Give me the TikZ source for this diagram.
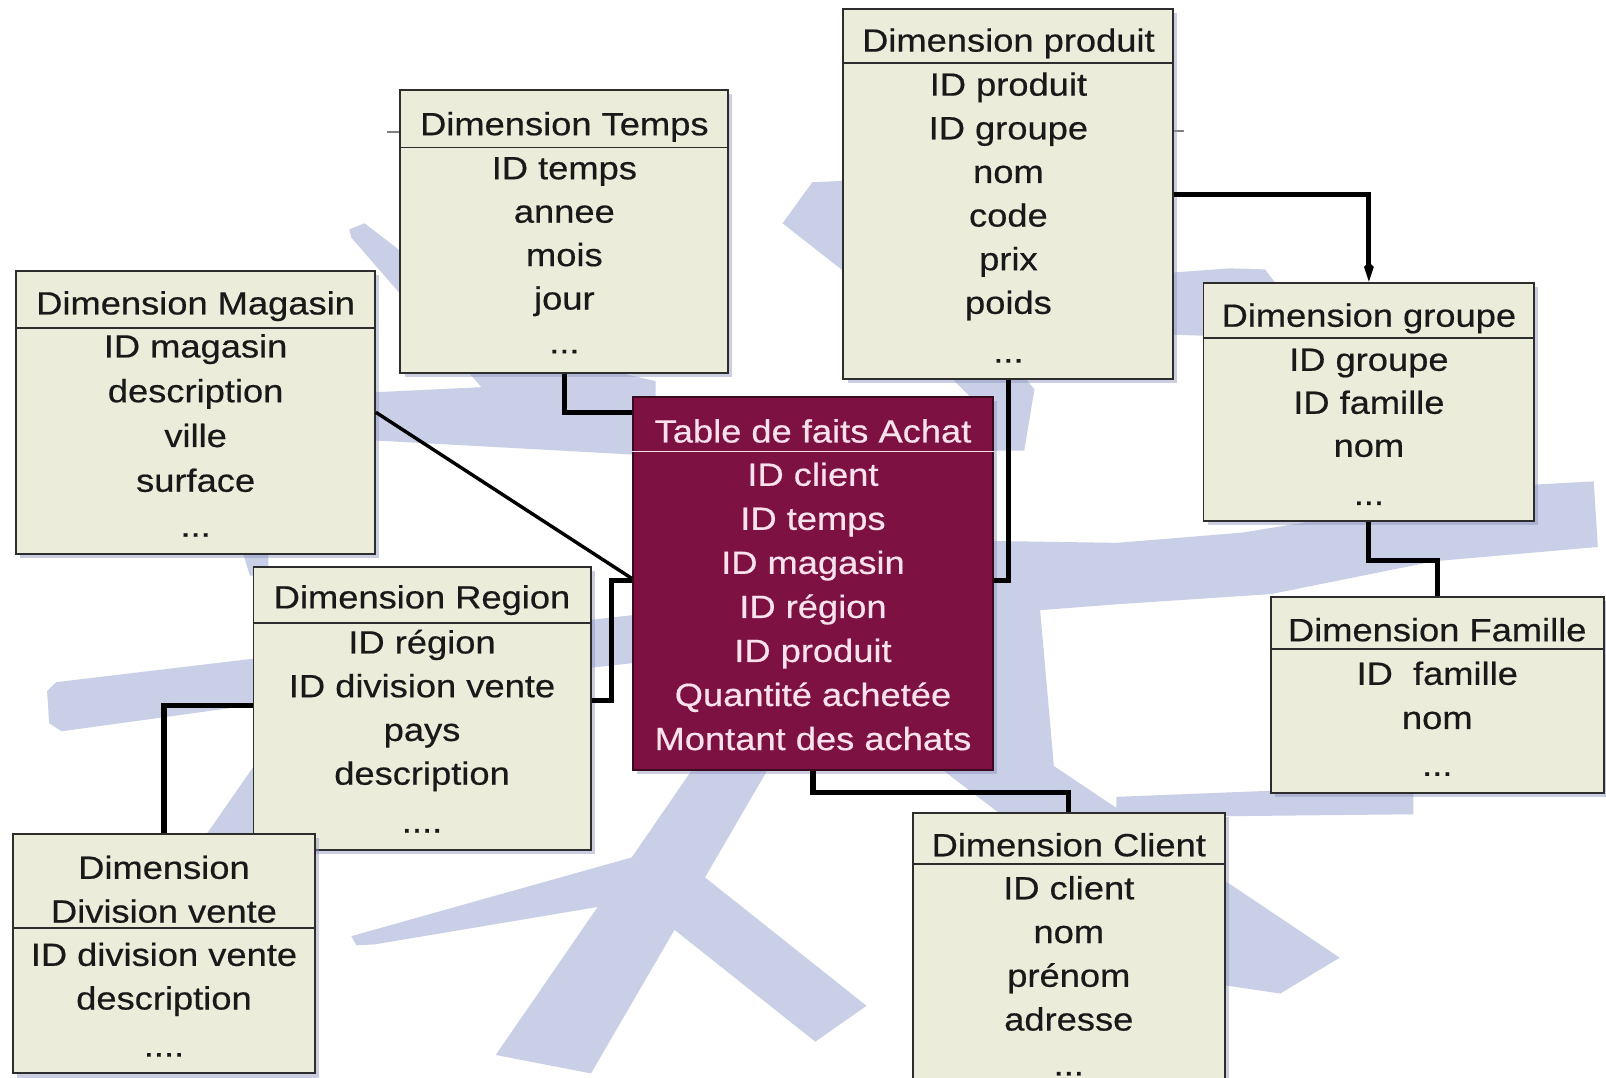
\documentclass[tikz,border=0pt]{standalone}
\usepackage{fontspec}
\setmainfont{Liberation Sans}[FakeStretch=1.13,FakeBold=0.5]
\usetikzlibrary{fit,shadows,arrows.meta,calc}
\definecolor{bgblue}{RGB}{201,207,230}
\definecolor{boxfill}{RGB}{236,236,219}
\definecolor{boxline}{RGB}{45,45,45}
\definecolor{factfill}{RGB}{125,17,66}
\definecolor{factline}{RGB}{60,10,30}
\definecolor{facttext}{RGB}{250,226,237}
\definecolor{shadowcol}{RGB}{140,148,190}
\definecolor{inkcol}{RGB}{25,25,25}
\newcommand{\rowfont}{\fontsize{17.85}{20}\selectfont}
\newcommand{\tabrows}[5][txt]{%
  \foreach \rowtxt [count=\i] in {#5} {%
    \pgfmathsetmacro{\yy}{#3+(\i-1)*#4}%
    \node[#1] (#2-\i) at (#2.north |- 0,\yy) {\rowtxt};
  }%
}
\tikzset{
  shad/.style={drop shadow={shadow xshift=0.08cm, shadow yshift=-0.08cm, fill=shadowcol, opacity=0.45}},
  dimbox/.style={draw=boxline, line width=1.1pt, fill=boxfill, inner sep=0pt, shad},
  factbox/.style={draw=factline, line width=1.1pt, fill=factfill, inner sep=0pt, shad},
  sepline/.style={draw=boxline, line width=1.1pt},
  factsep/.style={draw=facttext, line width=1.1pt},
  txt/.style={anchor=base, inner sep=0pt, font=\rowfont, text=inkcol},
  facttxt/.style={txt, text=facttext},
  link/.style={draw=black, line width=2.8pt},
  thinlink/.style={draw=black, line width=1.9pt},
  bg/.style={fill=bgblue, draw=none},
}
\begin{document}
\begin{tikzpicture}[x=0.02cm, y=-0.02cm]
\useasboundingbox (0,0) rectangle (1568,1052);
\clip (0,0) rectangle (1568,1052);
\fill[white] (0,0) rectangle (1568,1052);

% ---------- background snowflake ----------
\fill[bg] (341,224) -- (356,218) -- (520,345) -- (640,372) -- (640,445) -- (365,430) -- (365,383) -- (470,378) -- (343,232) -- cycle;
\fill[bg] (46,675) -- (55,666) -- (248,643) -- (640,598) -- (640,645) -- (249,688) -- (60,714) -- (48,706) -- cycle;
\fill[bg] (236,536) -- (262,536) -- (262,562) -- (244,562) -- cycle;
\fill[bg] (170,860) -- (252,742) -- (320,742) -- (260,860) -- cycle;
\fill[bg] (808,560) -- (861,560) -- (748,754) -- (577,1048) -- (484,1030) -- (674,754) -- cycle;
\fill[bg] (660,825) -- (343,914) -- (348,923) -- (366,922) -- (640,876) -- cycle;
\fill[bg] (680,850) -- (846,982) -- (796,1017) -- (655,905) -- cycle;
\fill[bg] (880,648) -- (1308,935) -- (1250,970) -- (1196,962) -- (880,721) -- cycle;
\fill[bg] (960,528) -- (1090,530) -- (1213,520) -- (1500,473) -- (1556,470) -- (1560,534) -- (1400,548) -- (1241,580) -- (1090,590) -- (960,600) -- cycle;
\fill[bg] (960,590) -- (1015,590) -- (1030,760) -- (960,760) -- cycle;
\fill[bg] (1090,778) -- (1241,772) -- (1380,772) -- (1380,795) -- (1090,798) -- cycle;
\fill[bg] (764,218) -- (793,178) -- (835,176) -- (1010,380) -- (1000,440) -- (960,440) -- (960,400) -- (824,265) -- cycle;
\fill[bg] (1120,268) -- (1200,262) -- (1235,263) -- (1245,276) -- (1245,330) -- (1120,326) -- cycle;
\draw[gray, line width=1pt] (378,129) -- (390,129);
\draw[gray, line width=1pt] (1146,128) -- (1156,128);

% ---------- tables ----------
\node[dimbox, fit={(391,88) (711,364)}] (temps) {};
\draw[sepline] (temps.west |- 0,144) -- (temps.east |- 0,144);
\node[txt] (temps-title) at (temps.north |- 0,132) {Dimension Temps};
\tabrows{temps}{175}{42.4}{ID temps, annee, mois, jour}
\node[txt] (temps-dots) at (temps.north |- 0,345) {...};

\node[dimbox, fit={(16,264.5) (366,541)}] (magasin) {};
\draw[sepline] (magasin.west |- 0,320) -- (magasin.east |- 0,320);
\node[txt] (magasin-title) at (magasin.north |- 0,307) {Dimension Magasin};
\tabrows{magasin}{349}{43.7}{ID magasin, description, ville, surface}
\node[txt] (magasin-dots) at (magasin.north |- 0,524) {...};

\node[dimbox, fit={(823.5,8.4) (1145.6,370)}] (produit) {};
\draw[sepline] (produit.west |- 0,61.5) -- (produit.east |- 0,61.5);
\node[txt] (produit-title) at (produit.north |- 0,50.4) {Dimension produit};
\tabrows{produit}{93.4}{42.6}{ID produit, ID groupe, nom, code, prix, poids}
\node[txt] (produit-dots) at (produit.north |- 0,354) {...};

\node[dimbox, fit={(1175,276) (1498,509)}] (groupe) {};
\draw[sepline] (groupe.west |- 0,330) -- (groupe.east |- 0,330);
\node[txt] (groupe-title) at (groupe.north |- 0,319) {Dimension groupe};
\tabrows{groupe}{362}{42}{ID groupe, ID famille, nom}
\node[txt] (groupe-dots) at (groupe.north |- 0,493) {...};

\node[dimbox, fit={(1240.5,583) (1566,774)}] (famille) {};
\draw[sepline] (famille.west |- 0,634) -- (famille.east |- 0,634);
\node[txt] (famille-title) at (famille.north |- 0,626) {Dimension Famille};
\tabrows{famille}{668.6}{43.1}{ID~~famille, nom}
\node[txt] (famille-dots) at (famille.north |- 0,757.5) {...};

\node[dimbox, fit={(891,793.5) (1196,1100)}] (client) {};
\draw[sepline] (client.west |- 0,844) -- (client.east |- 0,844);
\node[txt] (client-title) at (client.north |- 0,836) {Dimension Client};
\tabrows{client}{878}{42.7}{ID client, nom, prénom, adresse}
\node[txt] (client-dots) at (client.north |- 0,1050) {...};

\node[dimbox, fit={(247.5,553.8) (576.6,829.7)}] (region) {};
\draw[sepline] (region.west |- 0,608) -- (region.east |- 0,608);
\node[txt] (region-title) at (region.north |- 0,594) {Dimension Region};
\tabrows{region}{638}{42.7}{ID région, ID division vente, pays, description}
\node[txt] (region-dots) at (region.north |- 0,812.8) {....};

\node[dimbox, fit={(12.5,814.5) (307.7,1048)}] (division) {};
\draw[sepline] (division.west |- 0,905.7) -- (division.east |- 0,905.7);
\node[txt] (division-title1) at (division.north |- 0,858) {Dimension};
\node[txt] (division-title2) at (division.north |- 0,900.7) {Division vente};
\tabrows{division}{943}{42.6}{ID division vente, description}
\node[txt] (division-dots) at (division.north |- 0,1031.6) {....};

\node[factbox, fit={(618,387.8) (969.5,751.5)}] (fact) {};
\draw[factsep] (fact.west |- 0,440.8) -- (fact.east |- 0,440.8);
\node[facttxt] (fact-title) at (fact.north |- 0,432) {Table de faits Achat};
\tabrows[facttxt]{fact}{474.3}{43}{ID client, ID temps, ID magasin, ID région, ID produit, Quantité achetée, Montant des achats}

% ---------- connectors ----------
\draw[link] (temps.south) |- ($(fact.north west)+(0,16)$);
\draw[thinlink] ($(magasin.north east)+(0,139)$) -- ($(fact.north west)+(0,178)$);
\draw[link] ($(region.north east)+(0,131)$) -- ++(19,0) |- ($(fact.north west)+(0,180)$);
\draw[link] (produit.south) |- ($(fact.north east)+(0,180)$);
\draw[link, -{Kite[length=11pt,width=5.5pt]}] ($(produit.north east)+(0,182)$) -| (groupe.north);
\draw[link] (groupe.south) -- ++(0,37) -| (famille.north);
\draw[link] (fact.south) -- ++(0,21) -| (client.north);
\draw[link] ($(region.north west)+(0,136)$) -| (division.north);
\end{tikzpicture}
\end{document}
